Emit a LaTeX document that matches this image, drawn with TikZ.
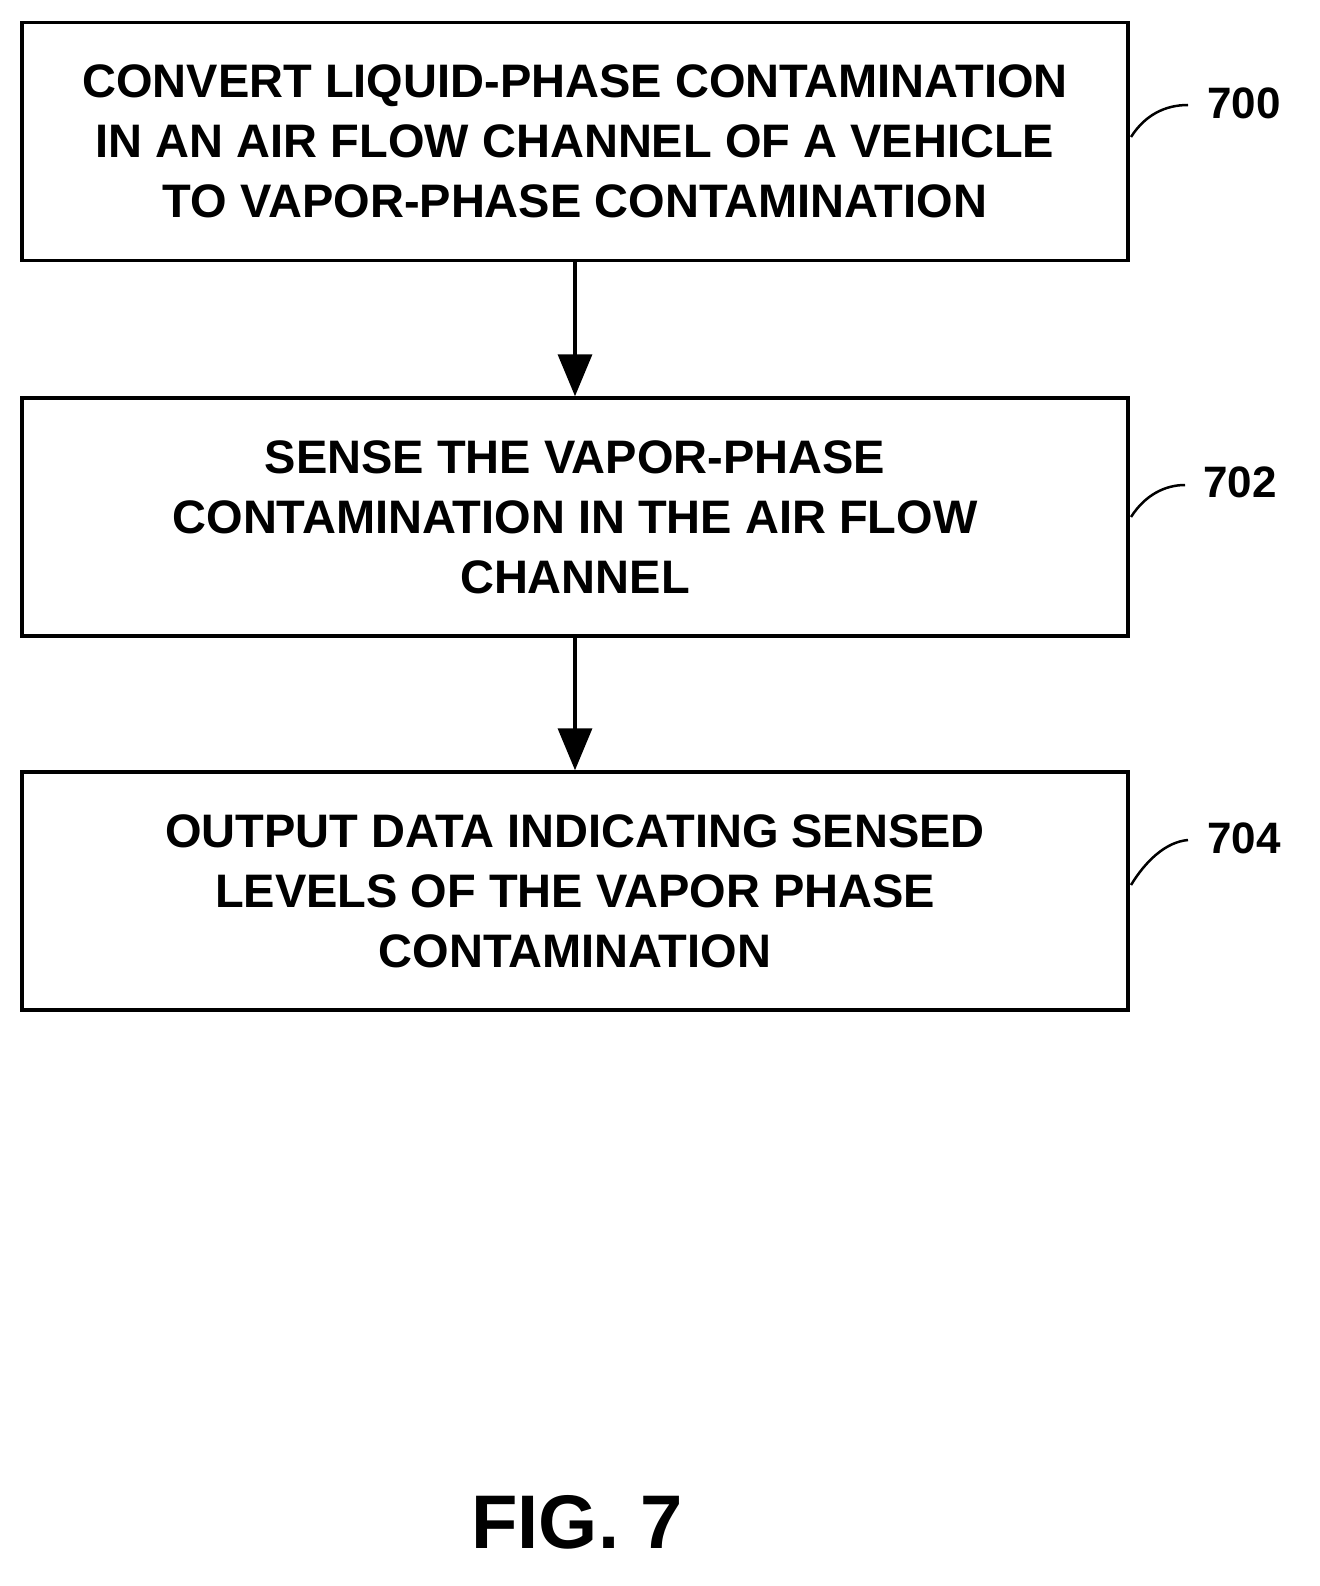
\documentclass[tikz,border=0pt]{standalone}
\usepackage{fontspec}
\setmainfont{Liberation Sans}
\usetikzlibrary{arrows.meta}
\begin{document}
\begin{tikzpicture}[x=1pt,y=-1pt,
 box/.style={draw,line width=3.5pt,minimum width=1106pt,inner sep=0pt,align=center,font=\fontsize{47}{60}\selectfont\bfseries},
 lab/.style={font=\fontsize{44}{50}\selectfont\bfseries},
 arr/.style={line width=3.5pt,-{Triangle[length=42pt,width=34pt]}},
 lead/.style={line width=2.5pt}]
\useasboundingbox (0,0) rectangle (1319,1586);
\node[box,minimum height=238pt] (b1) at (575,141.5) {CONVERT LIQUID-PHASE CONTAMINATION\\IN AN AIR FLOW CHANNEL OF A VEHICLE\\TO VAPOR-PHASE CONTAMINATION};
\node[box,minimum height=238pt] (b2) at (575,517) {SENSE THE VAPOR-PHASE\\CONTAMINATION IN THE AIR FLOW\\CHANNEL};
\node[box,minimum height=238pt] (b3) at (575,891) {OUTPUT DATA INDICATING SENSED\\LEVELS OF THE VAPOR PHASE\\CONTAMINATION};
\draw[arr] (b1.south) -- (b2.north);
\draw[arr] (b2.south) -- (b3.north);
\node[lab] (l1) at (1244,103) {700};
\node[lab] (l2) at (1240,482) {702};
\node[lab] (l3) at (1244,838) {704};
\draw[lead] (1131,137) .. controls (1145,115) and (1165,105) .. (1188,105);
\draw[lead] (1131,517) .. controls (1145,495) and (1165,485) .. (1185,485);
\draw[lead] (1131,885) .. controls (1145,862) and (1165,842) .. (1188,840);
\node[font=\fontsize{76}{80}\selectfont\bfseries] (fig) at (577,1522) {FIG. 7};
\end{tikzpicture}
\end{document}
